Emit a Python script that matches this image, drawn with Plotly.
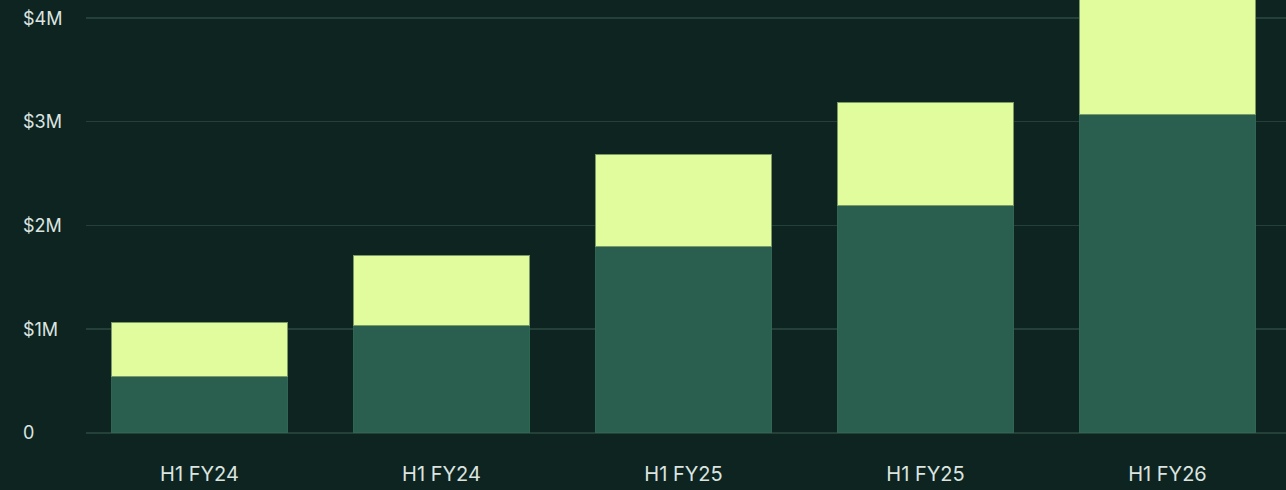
import plotly.graph_objects as go

categories = ["H1 FY24", "H1 FY24", "H1 FY25", "H1 FY25", "H1 FY26"]
base_values = [0.54e6, 1.03e6, 1.80e6, 2.19e6, 3.07e6]
top_values = [0.52e6, 0.68e6, 0.88e6, 1.00e6, 1.45e6]
y_tick_vals = [0, 1e6, 2e6, 3e6, 4e6]
y_tick_text = ["0", "$1M", "$2M", "$3M", "$4M"]

BG = "#0e2420"
DARK = "#2a5e4e"
LIGHT = "#e0fc9c"
GRID = "#253f39"
TEXT = "#dce4e0"
FONT = "Inter"

x_idx = list(range(len(categories)))

fig = go.Figure()
fig.add_trace(go.Bar(
    x=x_idx, y=base_values, marker=dict(color=DARK, line=dict(color="#2f6553", width=1)),
    width=0.73, showlegend=False, hoverinfo="skip",
))
fig.add_trace(go.Bar(
    x=x_idx, y=top_values, marker=dict(color=LIGHT, line=dict(color="#7c9a66", width=1)),
    width=0.73, showlegend=False, hoverinfo="skip",
))

for v, t in zip(y_tick_vals, y_tick_text):
    fig.add_annotation(
        x=0, xref="paper", xshift=-65, xanchor="left",
        y=v, yref="y", yanchor="middle", text=t, showarrow=False,
        font=dict(family=FONT, size=18, color=TEXT),
    )

fig.update_layout(
    barmode="stack",
    width=1286, height=490,
    paper_bgcolor=BG, plot_bgcolor=BG,
    margin=dict(l=86, r=0, t=0, b=53),
    font=dict(family=FONT, color=TEXT),
    xaxis=dict(
        range=[-0.469, 4.49], tickvals=x_idx, ticktext=categories,
        showgrid=False, zeroline=False, showline=False, ticks="",
        tickfont=dict(family=FONT, size=20, color=TEXT),
        ticklabelstandoff=23,
    ),
    yaxis=dict(
        range=[-0.0405e6, 4.1736e6], tickvals=y_tick_vals, showticklabels=False,
        showgrid=True, gridcolor=GRID, gridwidth=1.5,
        zeroline=True, zerolinecolor=GRID, zerolinewidth=1.5, showline=False,
    ),
)

fig.write_html(
    "out.html",
    config={"displayModeBar": False, "staticPlot": True},
    post_script="document.body.style.margin='0';document.body.style.background='%s';"
                "document.body.style.overflow='hidden';" % BG,
)
